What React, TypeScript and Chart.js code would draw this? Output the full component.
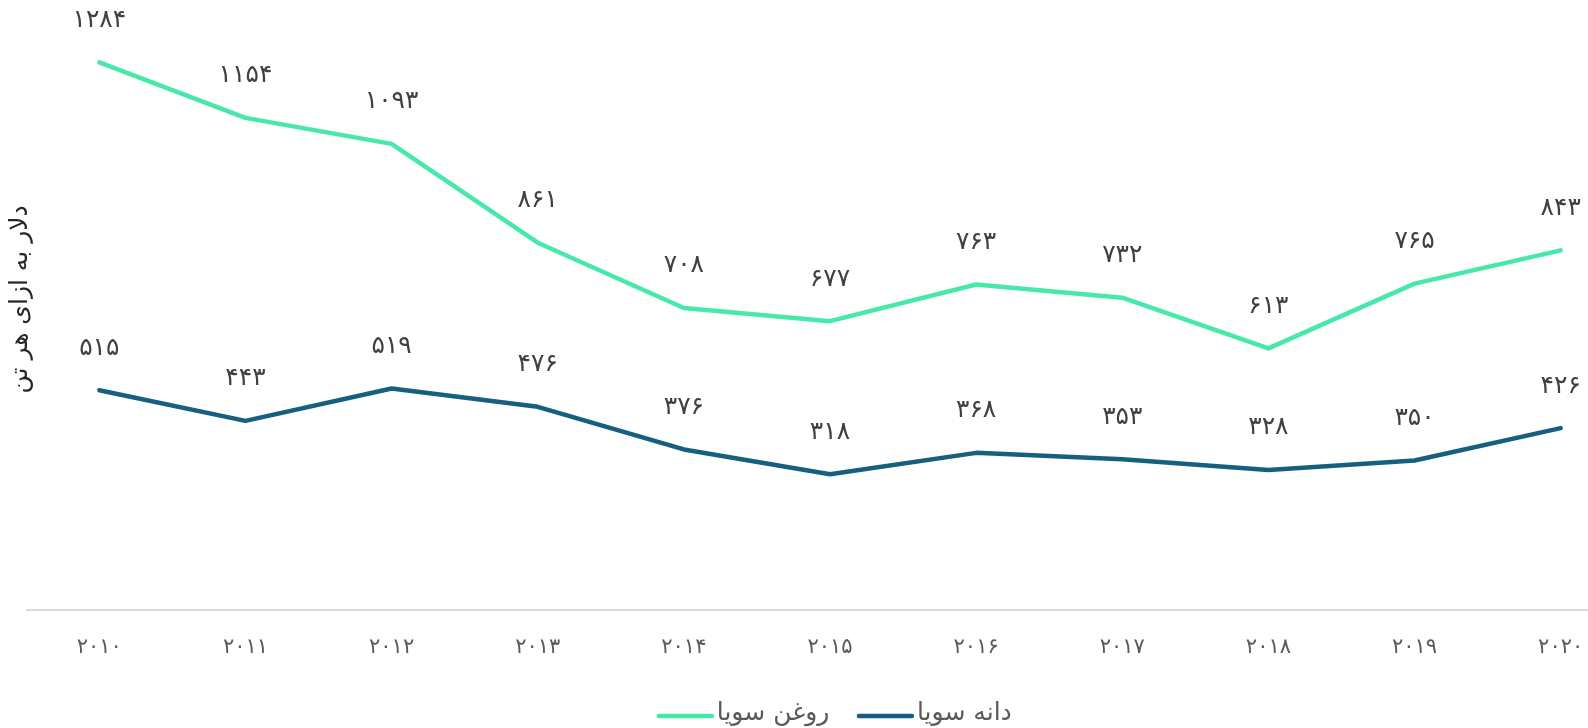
import React, { useEffect, useRef } from "react";
import { Chart, registerables } from "chart.js";

Chart.register(...registerables);

const years = ["2010", "2011", "2012", "2013", "2014", "2015", "2016", "2017", "2018", "2019", "2020"];
const soyOil = [1284, 1154, 1093, 861, 708, 677, 763, 732, 613, 765, 843];
const soySeed = [515, 443, 519, 476, 376, 318, 368, 353, 328, 350, 426];
const seriesNames = ["روغن سویا", "دانه سویا"];
const seriesColors = ["#47E8AA", "#175F7E"];
const yTitle = "   دلار به ازای هر تن";

const FONT = "'DejaVu Sans', sans-serif";
const faDigits = "۰۱۲۳۴۵۶۷۸۹";
const toFa = (s: string | number) => String(s).replace(/[0-9]/g, (d) => faDigits[+d]);

// legend marker: a rounded line, drawn as an image so it sits close to its text
function legendMarker(color: string) {
  const c = document.createElement("canvas");
  c.width = 67;
  c.height = 30;
  const g = c.getContext("2d")!;
  g.strokeStyle = color;
  g.lineWidth = 4.5;
  g.lineCap = "round";
  g.beginPath();
  g.moveTo(12, 18);
  g.lineTo(65, 18);
  g.stroke();
  return c;
}

const labelPlugin = {
  id: "pointLabels",
  afterDatasetsDraw(chart: any) {
    const ctx = chart.ctx;
    ctx.save();
    ctx.font = `25px ${FONT}`;
    ctx.fillStyle = "#404040";
    ctx.textAlign = "center";
    ctx.textBaseline = "middle";
    chart.data.datasets.forEach((ds: any, di: number) => {
      const meta = chart.getDatasetMeta(di);
      meta.data.forEach((pt: any, i: number) => {
        ctx.fillText(toFa(ds.data[i].y), pt.x, pt.y - 42);
      });
    });
    ctx.restore();
  },
};

const legendShift = {
  id: "legendShift",
  afterLayout(chart: any) {
    const lg = chart.legend;
    if (lg) {
      lg.left += 40;
      lg.right += 40;
    }
  },
};

export default function App() {
  const ref = useRef<HTMLCanvasElement>(null);
  useEffect(() => {
    if (!ref.current) return;
    const mk = (i: number, values: number[]) => ({
      label: seriesNames[i],
      data: values.map((v, j) => ({ x: j, y: v })),
      borderColor: seriesColors[i],
      backgroundColor: seriesColors[i],
      borderWidth: 4.5,
      pointRadius: 0,
      pointStyle: legendMarker(seriesColors[i]),
      borderCapStyle: "round",
      borderJoinStyle: "round",
      tension: 0,
    });
    const chart = new Chart(ref.current, {
      type: "line",
      data: { datasets: [mk(0, soyOil), mk(1, soySeed)] },
      options: {
        animation: false,
        responsive: true,
        maintainAspectRatio: false,
        layout: { padding: { top: 13, left: 0, right: 0, bottom: -7.5 } },
        plugins: {
          tooltip: { enabled: false },
          legend: {
            position: "bottom",
            labels: {
              usePointStyle: true,
              pointStyleWidth: 48,
              font: { family: FONT, size: 25 },
              color: "#595959",
              padding: 27,
            },
          },
        },
        scales: {
          x: {
            type: "linear",
            min: -0.495,
            max: 10.187,
            grid: { display: true, drawOnChartArea: false, drawTicks: true, tickLength: 25, color: "rgba(0,0,0,0)" },
            border: { display: true, color: "#d9d9d9", width: 2 },
            ticks: {
              stepSize: 1,
              includeBounds: false,
              autoSkip: false,
              maxRotation: 0,
              padding: 0,
              color: "#595959",
              font: { family: FONT, size: 21 },
              callback: (v: any) => {
                const i = Math.round(Number(v));
                return Math.abs(Number(v) - i) < 1e-6 && years[i] ? toFa(years[i]) : "";
              },
            },
            afterFit: (s: any) => {
              s.height = 63.8;
            },
          },
          y: {
            min: 0,
            max: 1400,
            grid: { display: false },
            border: { display: false },
            ticks: { display: false },
            title: {
              display: true,
              text: yTitle,
              color: "#262626",
              font: { family: FONT, size: 25 },
              padding: { top: 5, bottom: 0 },
            },
            afterFit: (s: any) => {
              s.width = 27;
            },
          },
        },
      },
      plugins: [labelPlugin, legendShift],
    } as any);
    return () => chart.destroy();
  }, []);
  return (
    <div style={{ position: "fixed", left: 0, top: 0, width: 1588, height: 728, background: "#fff" }}>
      <canvas ref={ref} />
    </div>
  );
}
